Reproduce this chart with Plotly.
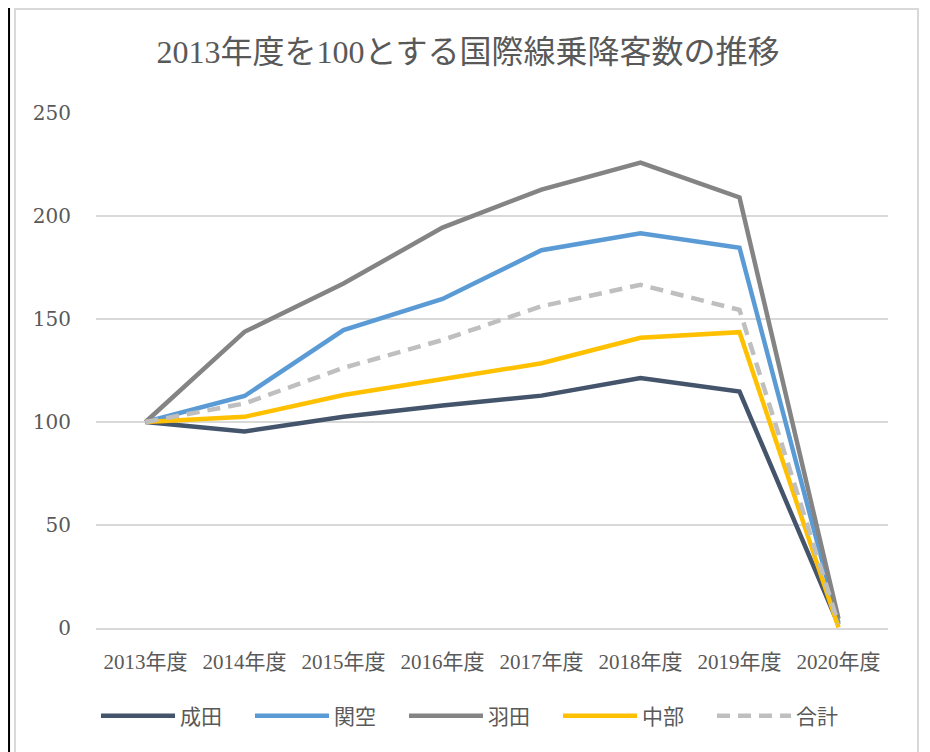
import plotly.graph_objects as go

# 年度と各空港の指数 (2013年度=100)
years = ["2013年度", "2014年度", "2015年度", "2016年度", "2017年度", "2018年度", "2019年度", "2020年度"]
narita = [100, 95.4, 102.5, 108.0, 112.8, 121.4, 114.8, 1.5]
kansai = [100, 112.6, 144.6, 159.7, 183.4, 191.6, 184.6, 2.5]
haneda = [100, 143.8, 167.2, 194.4, 212.8, 225.9, 209.0, 4.5]
chubu = [100, 102.5, 113.1, 120.9, 128.5, 140.9, 143.6, 0.3]
total = [100, 109.0, 126.3, 139.8, 156.2, 166.6, 154.4, 2.0]

series = [
    ("成田", narita, "#44546A", "solid"),
    ("関空", kansai, "#5B9BD5", "solid"),
    ("羽田", haneda, "#848484", "solid"),
    ("中部", chubu, "#FFC000", "solid"),
    ("合計", total, "#BFBFBF", "13px,8px"),
]

font_cjk = "Liberation Serif, Noto Sans CJK JP"
grey_txt = "#595959"

fig = go.Figure()
for name, vals, col, dash in series:
    fig.add_trace(go.Scatter(
        x=years, y=vals, name=name, mode="lines",
        line=dict(color=col, width=4.5, dash=dash),
        hoverinfo="skip",
    ))

# ページ本体の余白(8px)を考慮したサイズ
fig.update_layout(
    width=922, height=744,
    margin=dict(l=88, r=42, t=105, b=124, autoexpand=False),
    paper_bgcolor="white", plot_bgcolor="white",
    title=dict(text="2013年度を100とする国際線乗降客数の推移",
               x=460 / 922, xref="container", xanchor="center",
               y=1 - 44 / 744, yref="container", yanchor="middle",
               font=dict(family=font_cjk, size=32, color=grey_txt)),
    legend=dict(orientation="h", x=0.0, xanchor="left",
                y=-0.171, yanchor="middle",
                entrywidth=65, entrywidthmode="pixels", itemwidth=74,
                font=dict(family=font_cjk, size=21, color=grey_txt)),
    showlegend=True,
)

# 縦軸・横軸
fig.update_yaxes(range=[0, 250], dtick=50, showgrid=True, gridcolor="#D9D9D9", gridwidth=1.5,
                 zeroline=False, ticklabelstandoff=24,
                 tickfont=dict(family="DejaVu Serif", size=20, color=grey_txt))
fig.update_xaxes(range=[-0.5, 7.5], showgrid=False, showline=True, linecolor="#D9D9D9",
                 linewidth=1.5, ticklabelstandoff=14,
                 tickfont=dict(family=font_cjk, size=21, color=grey_txt))

# グラフエリアの枠
fig.add_shape(type="rect", xref="paper", yref="paper",
              x0=-0.1023, x1=1.0379, y0=-0.28, y1=1.2019,
              line=dict(color="#D9D9D9", width=2), layer="below")
fig.add_shape(type="line", xref="paper", yref="paper",
              x0=-0.1098, x1=-0.1098, y0=-0.28, y1=1.25,
              line=dict(color="black", width=2))

fig.write_html("out.html")
